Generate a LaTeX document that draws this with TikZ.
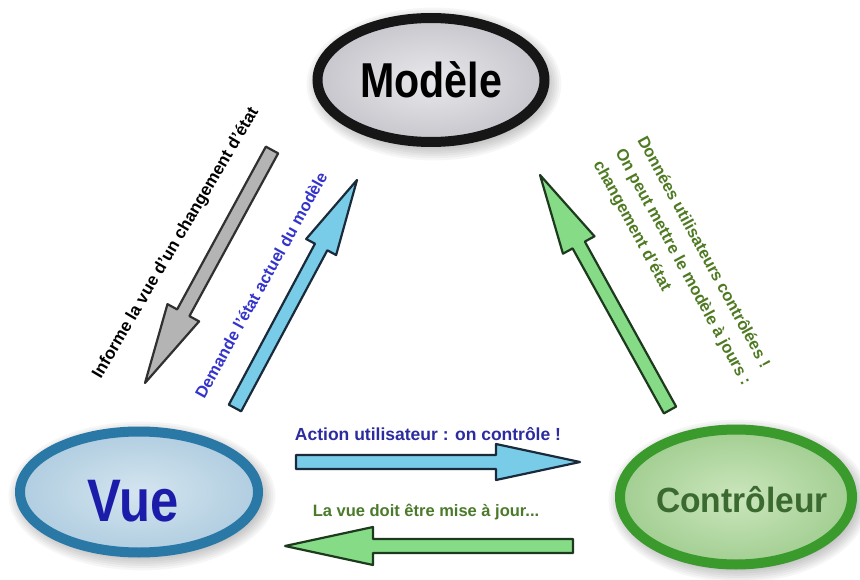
\documentclass[tikz,border=0pt]{standalone}
\usepackage{fontspec}
\setmainfont{Liberation Sans}
\usepackage{graphicx}
\usetikzlibrary{shapes.geometric,calc}

\definecolor{modborder}{HTML}{161616}
\definecolor{modin}{HTML}{E8E8EC}
\definecolor{modout}{HTML}{C6C6CC}
\definecolor{vueborder}{HTML}{2A78A6}
\definecolor{vuein}{HTML}{D4E5EF}
\definecolor{vueout}{HTML}{B0CDE0}
\definecolor{vuetext}{HTML}{1C1CAA}
\definecolor{ctrlborder}{HTML}{3A9A2C}
\definecolor{ctrlin}{HTML}{CBE6BC}
\definecolor{ctrlout}{HTML}{A2CE92}
\definecolor{ctrltext}{HTML}{3A6A30}
\definecolor{actiontxt}{HTML}{2C2CA0}
\definecolor{lavuetxt}{HTML}{4A7A2A}
\definecolor{greenlbl}{HTML}{4E7A22}
\definecolor{demandetxt}{HTML}{3434CC}
\definecolor{agray}{HTML}{B4B4B4}
\definecolor{agrayedge}{HTML}{303030}
\definecolor{ablue}{HTML}{78CCE8}
\definecolor{ablueedge}{HTML}{1A2A3A}
\definecolor{agreen}{HTML}{86DC86}
\definecolor{agreenedge}{HTML}{1E3A1E}

\tikzset{
  ellbox/.style={ellipse, inner sep=0pt, line width=10pt},
  grayarrow/.style={draw=agrayedge, fill=agray, line width=2.2pt, line join=round},
  bluearrow/.style={draw=ablueedge, fill=ablue, line width=2.2pt, line join=round},
  greenarrow/.style={draw=agreenedge, fill=agreen, line width=2.2pt, line join=round},
  lbl/.style={inner sep=0pt, font=\bfseries},
}

% #1 tail, #2 tip, #3 shaft half width, #4 head half width, #5 head length, #6 style
\newcommand{\blockarrow}[6]{%
  \coordinate (#1-hb) at ($(#2)!#5!(#1)$);
  \draw[#6] ($(#1)!#3!90:(#2)$) -- ($(#1-hb)!#3!90:(#2)$) -- ($(#1-hb)!#4!90:(#2)$)
    -- (#2) -- ($(#1-hb)!#4!-90:(#2)$) -- ($(#1-hb)!#3!-90:(#2)$)
    -- ($(#1)!#3!-90:(#2)$) -- cycle;
}

% soft blurred shadow: cx, cy, rx, ry
\newcommand{\softshadow}[4]{%
  \foreach \k in {0,...,7}{%
    \fill[black, opacity=0.035] (#1+3,#2+4) ellipse [x radius=#3-6+\k*2.2, y radius=#4-6+\k*2.2];
  }%
}

\begin{document}
\begin{tikzpicture}[x=1pt, y=-1pt]
\useasboundingbox (0,0) rectangle (860,580);
\fill[white] (0,0) rectangle (860,580);

% shadows
\softshadow{431}{80}{118}{67}
\softshadow{139}{492}{124}{65}
\softshadow{736}{497}{121}{72}

% ellipses
\node[ellbox, draw=modborder, inner color=modin, outer color=modout,
      minimum width=227pt, minimum height=124pt] (modele) at (431,80)
      {\fontsize{49}{50}\selectfont\bfseries\scalebox{0.84}[1]{Modèle}};
\node[ellbox, draw=vueborder, inner color=vuein, outer color=vueout,
      minimum width=238pt, minimum height=121pt] (vue) at (139,492) {};
\node[ellbox, draw=ctrlborder, inner color=ctrlin, outer color=ctrlout,
      minimum width=232pt, minimum height=135pt] (ctrl) at (736,497) {};
\node[inner sep=0pt, text=vuetext] (vuetxt) at (133,501)
      {\fontsize{60}{60}\selectfont\bfseries\scalebox{0.845}[1]{Vue}};
\node[inner sep=0pt, text=ctrltext] (ctrltxt) at (742,500)
      {\fontsize{35}{36}\selectfont\bfseries\scalebox{0.96}[1]{Contrôleur}};

% arrow end points
\coordinate (gtail) at (272,150);
\coordinate (gtip) at (145,383);
\coordinate (btail) at (235,408);
\coordinate (btip) at (357,180);
\coordinate (rtail) at (670,410);
\coordinate (rtip) at (540,175);
\coordinate (htail) at (296,462);
\coordinate (htip) at (580,462);
\coordinate (ltail) at (573,546);
\coordinate (ltip) at (285,546);

\blockarrow{gtail}{gtip}{7pt}{18pt}{80pt}{grayarrow}
\blockarrow{btail}{btip}{7pt}{17pt}{76pt}{bluearrow}
\blockarrow{rtail}{rtip}{7pt}{18pt}{80pt}{greenarrow}
\blockarrow{htail}{htip}{7pt}{18pt}{84pt}{bluearrow}
\blockarrow{ltail}{ltip}{7pt}{19pt}{88pt}{greenarrow}

% labels
\node[lbl, rotate=59.5, font=\fontsize{17}{19}\selectfont\bfseries] (informe) at (176,243)
      {Informe la vue d'un changement d'état};
\node[lbl, rotate=61, text=demandetxt, font=\fontsize{16.4}{18}\selectfont\bfseries] (demande) at (261,285)
      {Demande l'état actuel du modèle};
\node[lbl, rotate=-61.5, text=greenlbl, align=left, anchor=north west,
      font=\fontsize{16.5}{25}\selectfont\bfseries] (donnees) at (648,134)
      {Données utilisateurs contrôlées !\\On peut mettre le modèle à jours :\\changement d'état};
\node[lbl, text=actiontxt, font=\fontsize{17.5}{19}\selectfont\bfseries] (action) at (428,434)
      {Action utilisateur : on contrôle !};
\node[lbl, text=lavuetxt, font=\fontsize{16.5}{19}\selectfont\bfseries] (lavue) at (426,512)
      {La vue doit être mise à jour...};
\end{tikzpicture}
\end{document}
